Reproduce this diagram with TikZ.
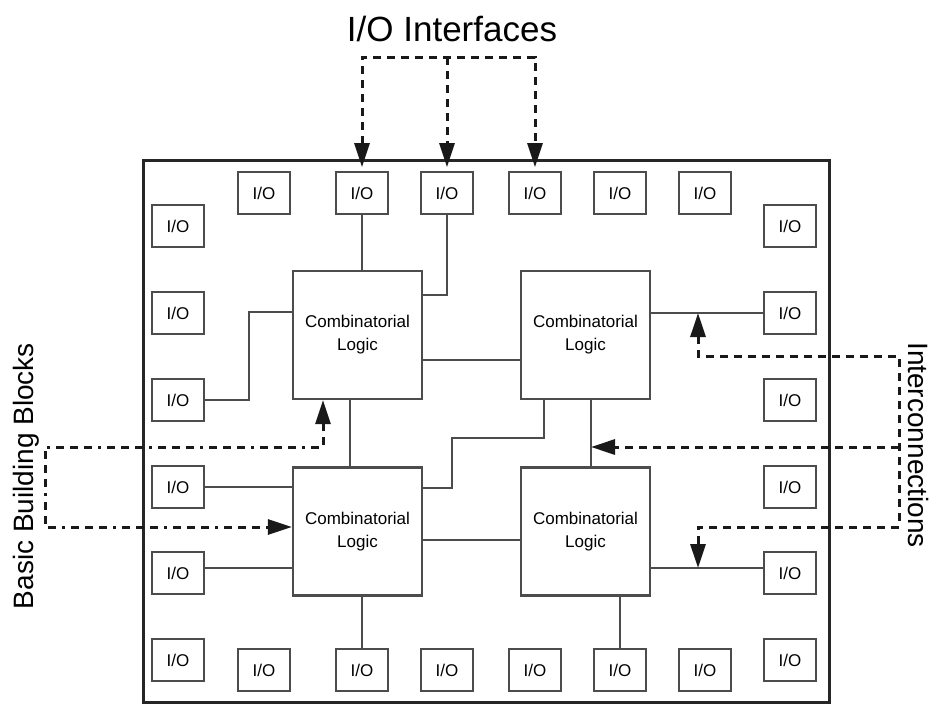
\documentclass[tikz,border=0pt]{standalone}
\usepackage{fontspec}
\setmainfont{Liberation Sans}
\usetikzlibrary{arrows.meta,calc}

\begin{document}
\begin{tikzpicture}[x=1pt,y=-1pt,
        io/.style={draw=black!70,line width=1.8pt,minimum width=52pt,minimum height=42pt,inner sep=0pt,font=\fontsize{17}{20}\selectfont},
        logic/.style={draw=black!70,line width=2.2pt,minimum width=129pt,minimum height=128pt,inner sep=0pt,align=center,font=\fontsize{17}{23}\selectfont},
        chip/.style={draw=black!85,line width=3pt,minimum width=686pt,minimum height=542pt,inner sep=0pt},
        wire/.style={black!70,line width=2pt},
        bus/.style={black!90,line width=3pt,dash pattern=on 8pt off 6pt},
        busdot/.style={black!90,line width=3pt,dash pattern=on 8pt off 6pt on 8pt off 6pt on 8pt off 6pt on 3pt off 6pt},
        pointer/.style={-{Triangle[length=24pt,width=15pt]}},
        pointers/.style={{Triangle[length=24pt,width=15pt]}-{Triangle[length=24pt,width=15pt]}},
        labeltext/.style={inner sep=0pt,font=\fontsize{28}{30}\selectfont}]
                    \useasboundingbox (0,0) rectangle (933,704);
                    \node[chip] (chip) at (486,431) {};
                    \foreach \i/\x in {1/264,2/362,3/447,4/535,5/620,6/705} {
                        \node[io] (iot\i) at (\x,193) {I/O};
                        \node[io] (iob\i) at (\x,670) {I/O};
                    }
                    \foreach \i/\y in {1/226,2/313,3/400,4/487,5/573,6/660} {
                        \node[io] (iol\i) at (178,\y) {I/O};
                        \node[io] (ior\i) at (790,\y) {I/O};
                    }
                    \node[logic] (cl1) at (357.5,335) {Combinatorial\\Logic};
                    \node[logic] (cl2) at (585.5,335) {Combinatorial\\Logic};
                    \node[logic] (cl3) at (357.5,531.5) {Combinatorial\\Logic};
                    \node[logic] (cl4) at (585.5,531.5) {Combinatorial\\Logic};
                    \draw[wire] (iot2.south) -- (cl1.north -| iot2.south);
                    \draw[wire] (iot3.south) |- (cl1.east |- 0,295);
                    \draw[wire] (iol3.east) -| (249,312) -- (cl1.west |- 0,312);
                    \draw[wire] (cl1.east |- 0,360) -- (cl2.west |- 0,360);
                    \draw[wire] (cl1.south -| 350,0) -- (cl3.north -| 350,0);
                    \draw[wire] (ior2.west) -- (cl2.east |- ior2.west);
                    \draw[wire] (cl2.south -| 544,0) |- (452,438) |- (cl3.east |- 0,488);
                    \draw[wire] (cl2.south -| 591,0) -- (cl4.north -| 591,0);
                    \draw[wire] (iol4.east) -- (cl3.west |- iol4.east);
                    \draw[wire] (iol5.east |- 0,568) -- (cl3.west |- 0,568);
                    \draw[wire] (cl3.east |- 0,540) -- (cl4.west |- 0,540);
                    \draw[wire] (cl3.south -| iob2.north) -- (iob2.north);
                    \draw[wire] (cl4.east |- 0,568) -- (ior5.west |- 0,568);
                    \draw[wire] (cl4.south -| iob5.north) -- (iob5.north);
                    \node[labeltext,font=\fontsize{35}{38}\selectfont] (ioif) at (452,29) {I/O Interfaces};
                    \coordinate (ifbar) at (447,57);
                    \draw[bus,pointers] ([yshift=4pt]iot2.north) |- (ifbar) -| ([yshift=4pt]iot4.north);
                    \draw[bus,pointer] (ifbar) -- ([yshift=4pt]iot3.north);
                    \node[labeltext,rotate=90] (bbb) at (26,476) {Basic Building Blocks};
                    \coordinate (bbbend) at (45,447);
                    \draw[busdot,pointers] (cl1.south -| 323,0) |- (bbbend) |- (cl3.west |- 0,527);
                    \node[labeltext,rotate=-90] (icn) at (918,445) {Interconnections};
                    \coordinate (tap1) at (698,313);
                    \coordinate (tap2) at (591,447);
                    \coordinate (tap3) at (698,568);
                    \draw[bus,pointers] (tap1) |- (899,356) |- (698,527) -- (tap3);
                    \draw[bus,pointer] (899,447) -- (tap2);
                \end{tikzpicture}
\end{document}
